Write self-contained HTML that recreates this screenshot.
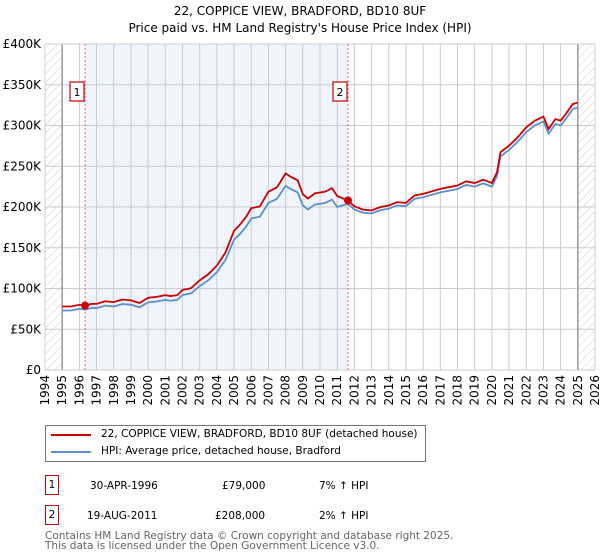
<!DOCTYPE html>
<html><head><meta charset="utf-8"><style>
body{margin:0;width:600px;height:560px;background:#fff;font-family:"DejaVu Sans","Liberation Sans",sans-serif;overflow:hidden;position:relative}
.t{position:absolute;font-size:10.5px;color:#000;white-space:nowrap}
.box{position:absolute;border:1.5px solid #c00;width:12px;height:18px;font-size:10.5px;text-align:center;line-height:18px;box-sizing:content-box}
</style></head><body>
<svg id="chart" width="600" height="420" style="position:absolute;left:0;top:0" font-family="DejaVu Sans, Liberation Sans, sans-serif"></svg>
<div style="position:absolute;left:45px;top:425px;width:381px;height:37px;border:1px solid #777;box-sizing:border-box">
<div style="position:absolute;left:5px;top:8px;width:40px;height:2px;background:#c00"></div>
<div class="t" style="left:55px;top:2px">22, COPPICE VIEW, BRADFORD, BD10 8UF (detached house)</div>
<div style="position:absolute;left:5px;top:25px;width:40px;height:2px;background:#5b8fd0"></div>
<div class="t" style="left:55px;top:19px">HPI: Average price, detached house, Bradford</div>
</div>
<div class="box" style="left:45px;top:475px">1</div>
<div class="t" style="left:90px;top:480px">30-APR-1996</div>
<div class="t" style="left:222px;top:480px">£79,000</div>
<div class="t" style="left:319px;top:480px">7% ↑ HPI</div>
<div class="box" style="left:45px;top:505px">2</div>
<div class="t" style="left:87px;top:510px">19-AUG-2011</div>
<div class="t" style="left:215px;top:510px">£208,000</div>
<div class="t" style="left:319px;top:510px">2% ↑ HPI</div>
<div class="t" style="left:45px;top:531px;color:#666;line-height:10px;font-size:10.5px">Contains HM Land Registry data © Crown copyright and database right 2025.<br>This data is licensed under the Open Government Licence v3.0.</div>
<script>
const hpiYears=[1995,1995.5,1996,1996.33,1996.7,1997,1997.5,1998,1998.5,1999,1999.5,2000,2000.5,2001,2001.3,2001.7,2002,2002.5,2003,2003.5,2004,2004.5,2005,2005.3,2005.7,2006,2006.5,2007,2007.5,2008,2008.3,2008.7,2009,2009.3,2009.7,2010.3,2010.7,2011,2011.63,2012,2012.5,2013,2013.5,2014,2014.5,2015,2015.5,2016,2016.5,2017,2017.5,2018,2018.5,2019,2019.5,2020,2020.3,2020.5,2021,2021.5,2022,2022.5,2023,2023.3,2023.7,2024,2024.3,2024.7,2025];
const hpiValues=[73,73,75,74,76,76,79,78,81,80,77,83,84,86,85,86,92,94,103,110,120,135,160,166,176,186,188,205,210,226,222,218,202,197,203,205,209,200,204,197,193,192,196,198,202,201,210,212,215,218,220,222,227,225,229,225,238,262,270,280,292,300,305,290,302,300,308,320,322];
const saleYears=[1996.33,2011.63];
const salePrices=[79,208];
const saleLabels=["1","2"];
const yTicks=[0,50,100,150,200,250,300,350,400];
const yTickLabels=["£0","£50K","£100K","£150K","£200K","£250K","£300K","£350K","£400K"];
const xTicks=[1994,1995,1996,1997,1998,1999,2000,2001,2002,2003,2004,2005,2006,2007,2008,2009,2010,2011,2012,2013,2014,2015,2016,2017,2018,2019,2020,2021,2022,2023,2024,2025,2026];
const ns="http://www.w3.org/2000/svg";
const svg=document.getElementById('chart');
const L=45,R=595,T=44,B=370;
const X=y=>L+(y-1994)/32*(R-L);
const Y=v=>B-v/400*(B-T);
function mk(tag,a,p){const e=document.createElementNS(ns,tag);for(const k in a)e.setAttribute(k,a[k]);(p||svg).appendChild(e);return e;}
const defs=mk('defs',{});
const pat=mk('pattern',{id:'hatch',width:6,height:6,patternUnits:'userSpaceOnUse',patternTransform:'rotate(45)'},defs);
mk('line',{x1:0,y1:0,x2:0,y2:6,stroke:'#ccc','stroke-width':1},pat);
let e;
e=mk('rect',{x:X(1994),y:T,width:X(1995)-X(1994),height:B-T,fill:'url(#hatch)'});

e=mk('rect',{x:X(2025),y:T,width:X(2026)-X(2025),height:B-T,fill:'url(#hatch)'});

e=mk('rect',{x:X(saleYears[0]),y:T,width:X(saleYears[1])-X(saleYears[0]),height:B-T,fill:'#f0f4fd'});

yTicks.forEach((v,i)=>{
 e=mk('line',{x1:L,x2:R,y1:Y(v),y2:Y(v),stroke:'#ccc','stroke-width':1});
 
 e=mk('text',{x:L-4,y:Y(v)+4,'text-anchor':'end','font-size':12,fill:'#000'});e.textContent=yTickLabels[i];
 
});
xTicks.forEach(y=>{
 e=mk('line',{x1:X(y),x2:X(y),y1:T,y2:B,stroke:'#ccc','stroke-width':1});
 
 e=mk('text',{x:0,y:0,'text-anchor':'end','font-size':12,fill:'#000',transform:`translate(${X(y)+4},${B+5}) rotate(-90)`});e.textContent=y;
 
});
mk('line',{x1:X(1995),x2:X(1995),y1:T,y2:B,stroke:'#999','stroke-width':1.5});
mk('line',{x1:X(2025),x2:X(2025),y1:T,y2:B,stroke:'#999','stroke-width':1.5});
e=mk('rect',{x:L,y:T,width:R-L,height:B-T,fill:'none',stroke:'#ccc'});
const ratio=y=>y<saleYears[1]?salePrices[0]/hpiValues[hpiYears.indexOf(saleYears[0])]:salePrices[1]/hpiValues[hpiYears.indexOf(saleYears[1])];
e=mk('polyline',{points:hpiYears.map((y,i)=>X(y)+','+Y(hpiValues[i])).join(' '),fill:'none',stroke:'#5b8fd0','stroke-width':1.8});

e=mk('polyline',{points:hpiYears.map((y,i)=>X(y)+','+Y(hpiValues[i]*ratio(y))).join(' '),fill:'none',stroke:'#c00','stroke-width':1.8});

saleYears.forEach((y,i)=>{
 e=mk('line',{x1:X(y),x2:X(y),y1:T,y2:B,stroke:'#e66','stroke-width':1,'stroke-dasharray':'2,2'});
 
 e=mk('circle',{cx:X(y),cy:Y(salePrices[i]),r:4,fill:'#c00'});
 
 const g=mk('g',{});
 
 mk('rect',{x:X(y)-15,y:T+38,width:14,height:19,fill:'#fff',stroke:'#c00','stroke-width':1.2},g);
 const t=mk('text',{x:X(y)-8,y:T+52,'text-anchor':'middle','font-size':11,fill:'#000'},g);t.textContent=saleLabels[i];
});
e=mk('text',{x:300,y:15,'text-anchor':'middle','font-size':12,fill:'#000'});e.textContent='22, COPPICE VIEW, BRADFORD, BD10 8UF';

e=mk('text',{x:300,y:32,'text-anchor':'middle','font-size':12,fill:'#000'});e.textContent="Price paid vs. HM Land Registry's House Price Index (HPI)";

</script>
</body></html>
